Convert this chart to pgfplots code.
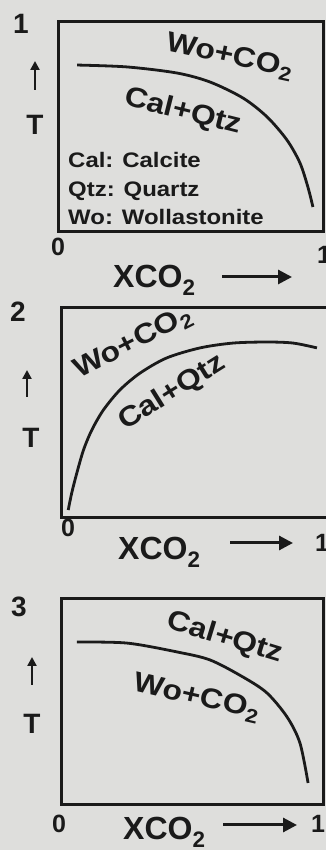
\documentclass[border=0pt]{standalone}
\usepackage{pgfplots}
\pgfplotsset{compat=1.18}
\usepackage{fontspec}
\setmainfont{Liberation Sans}
\usetikzlibrary{arrows.meta}
\definecolor{paper}{RGB}{222,222,220}
\definecolor{ink}{RGB}{26,26,26}
\pgfplotsset{panel/.style={scale only axis,anchor=south west,xmin=0,xmax=1,ymin=0,ymax=1,
  ticks=none,axis line style={line width=3pt,ink}}}
\newcommand{\fs}[1]{\fontsize{#1}{#1}\selectfont\bfseries}
\newcommand{\wide}[1]{\scalebox{1.14}[1]{#1}}
\begin{document}
\begin{tikzpicture}[x=1pt,y=1pt,
  t/.style={text=ink,inner sep=0pt},
  phase/.style={t,font=\fs{28}},
  key/.style={t,font=\fs{21},xscale=1.14,anchor=base west},
  big/.style={t,font=\fs{28}},
  num/.style={t,font=\fs{25}},
  xl/.style={t,font=\fs{32},anchor=base west},
  xarr/.style={ink,line width=3pt,-{Triangle[length=14pt,width=14pt]}},
  tarr/.style={ink,line width=2.4pt,-{Triangle[length=9pt,width=9pt]}}]
\useasboundingbox (0,0) rectangle (326,850);
\clip (0,0) rectangle (326,850);
\fill[paper] (0,0) rectangle (326,850);

% panel 1
\begin{axis}[panel,at={(58pt,618pt)},width=265pt,height=210pt]
\addplot[ink,line width=2.8pt,smooth] coordinates {(0.072,0.795) (0.260,0.786) (0.449,0.757) (0.574,0.714) (0.698,0.638) (0.789,0.548) (0.864,0.438) (0.913,0.329) (0.943,0.214) (0.962,0.119)};
\end{axis}
\node[big] at (21,826) {1};
\draw[tarr] (35,760) -- (35,789);
\node[big] at (35,725) {T};
\node[num] at (58,603) {0};
\node[num] at (324,595) {1};
\node[xl] at (113,562) {XCO\textsubscript{2}};
\draw[xarr] (222,573) -- (292,573);
\node[phase,rotate=-12] at (230,793) {\wide{Wo+CO\textsubscript{2}}};
\node[phase,rotate=-14] at (183,738) {\wide{Cal+Qtz}};
\node[key] at (68,682) {Cal: Calcite};
\node[key] at (68,653) {Qtz: Quartz};
\node[key] at (68,625) {Wo: Wollastonite};

% panel 2
\begin{axis}[panel,at={(61pt,332pt)},width=268pt,height=210pt]
\addplot[ink,line width=2.8pt,smooth,tension=0.5] coordinates {(0.027,0.038) (0.040,0.119) (0.059,0.214) (0.084,0.324) (0.115,0.419) (0.158,0.514) (0.220,0.610) (0.295,0.690) (0.394,0.762) (0.519,0.810) (0.642,0.833) (0.769,0.838) (0.866,0.833) (0.955,0.810)};
\end{axis}
\node[big] at (18,538) {2};
\draw[tarr] (27,453) -- (27,480);
\node[big] at (31,412) {T};
\node[num] at (68,322) {0};
\node[num] at (322,307) {1};
\node[xl] at (118,290) {XCO\textsubscript{2}};
\draw[xarr] (230,307) -- (293,307);
\node[phase,rotate=27] at (133,507) {\wide{Wo+CO\textsubscript{2}}};
\node[phase,rotate=32] at (172,457) {\wide{Cal+Qtz}};

% panel 3
\begin{axis}[panel,at={(61pt,45pt)},width=262pt,height=206pt]
\addplot[ink,line width=2.8pt,smooth] coordinates {(0.061,0.791) (0.252,0.786) (0.443,0.743) (0.569,0.704) (0.695,0.621) (0.786,0.544) (0.863,0.427) (0.912,0.301) (0.943,0.107)};
\end{axis}
\node[big] at (19,243) {3};
\draw[tarr] (32,165) -- (32,193);
\node[big] at (32,126) {T};
\node[num] at (59,26) {0};
\node[num] at (318,26) {1};
\node[xl] at (123,10) {XCO\textsubscript{2}};
\draw[xarr] (223,25) -- (297,25);
\node[phase,rotate=-17] at (225,212) {\wide{Cal+Qtz}};
\node[phase,rotate=-13] at (197,152) {\wide{Wo+CO\textsubscript{2}}};
\end{tikzpicture}
\end{document}
